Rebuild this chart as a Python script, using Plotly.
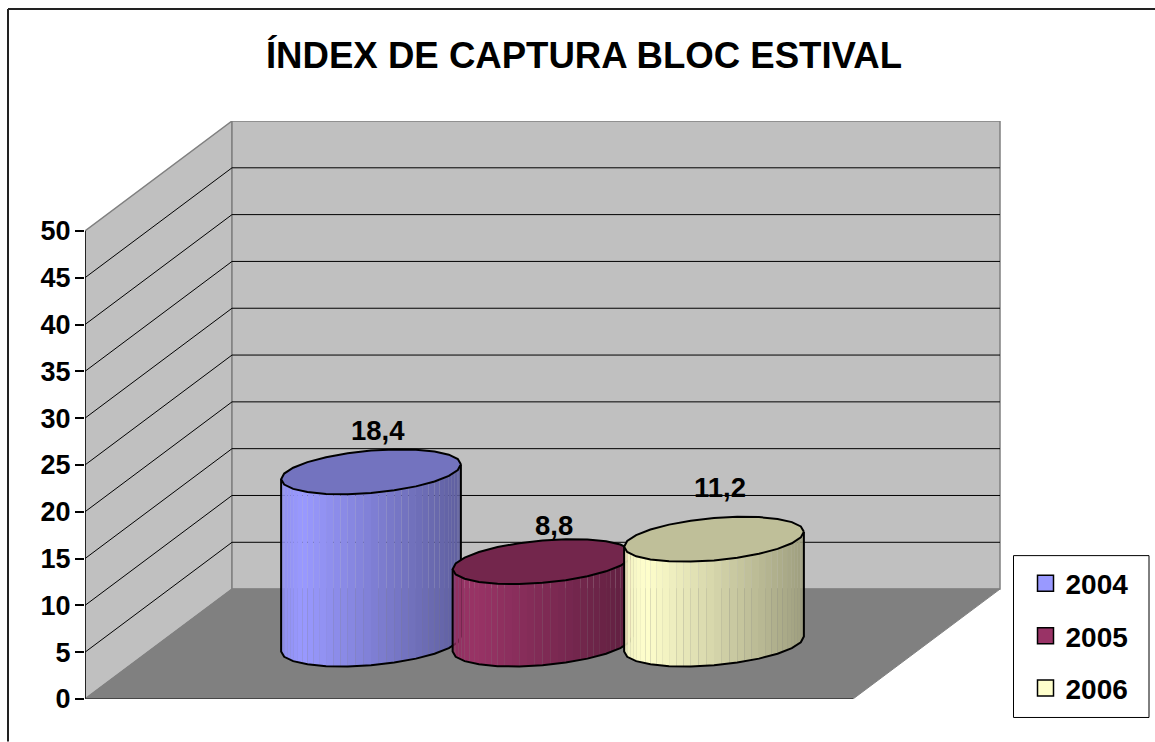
import numpy as np
import plotly.graph_objects as go

# ---- data ----
series_names = ["2004", "2005", "2006"]
series_values = [18.4, 8.8, 11.2]
y_ticks = [0, 5, 10, 15, 20, 25, 30, 35, 40, 45, 50]
title_text = "ÍNDEX DE CAPTURA BLOC ESTIVAL"

# ---- style ----
side_colors = [(153, 153, 255), (153, 51, 102), (255, 255, 204)]
FONT = "Liberation Sans, Arial, sans-serif"
W, H = 1155, 742
PL, PR, PT, PB = 85, 1001, 121, 699.5      # plot-area pixels
PX_PER_X = 768.0                           # pixels per x unit (front edge = 0..1)
PX_PER_Y = (699.5 - 231) / 50.0            # pixels per value unit
DEPTH_X = 147.0 / PX_PER_X                 # oblique depth vector in axis units
DEPTH_Y = 110.0 / PX_PER_Y
Y_TOP = (PB - PT) / PX_PER_Y
X_TOP = (PR - PL) / PX_PER_X
SPACING = 171.5 / PX_PER_X
RADIUS_X = 84.7 / PX_PER_X
RADIUS_D = 22.5 / 55.0 * 0.5               # radius as fraction of full depth
FACETS = 24
SUBSTRIPS = 3


def project(x, d, y):
    """x along the front edge, d depth 0..1, y value -> axis coordinates."""
    return x + DEPTH_X * d, y + DEPTH_Y * d


def rgb(c, f=1.0):
    return "rgb(%d,%d,%d)" % tuple(round(v * f) for v in c)


fig = go.Figure()


def poly(xs, ys, fill, line=None, width=0):
    fig.add_trace(go.Scatter(
        x=xs, y=ys, mode="lines", fill="toself", fillcolor=fill,
        line=dict(color=line or fill, width=width), hoverinfo="skip", showlegend=False))


# walls and floor
wx, wy = zip(*[project(0, 0, 0), project(0, 0, 50), project(0, 1, 50), project(0, 1, 0), project(0, 0, 0)])
poly(list(wx), list(wy), "#C0C0C0", "#808080", 1.5)
bx, by = zip(*[project(0, 1, 0), project(0, 1, 50), project(1, 1, 50), project(1, 1, 0), project(0, 1, 0)])
poly(list(bx), list(by), "#C0C0C0", "#808080", 1.5)
fx, fy = zip(*[project(0, 0, 0), project(1, 0, 0), project(1, 1, 0), project(0, 1, 0), project(0, 0, 0)])
poly(list(fx), list(fy), "#808080", "#808080", 1)

# gridlines
gx, gy = [], []
for t in y_ticks[1:-1]:
    pts = [project(0, 0, t), project(0, 1, t), project(1, 1, t)]
    gx += [p[0] for p in pts] + [None]
    gy += [p[1] for p in pts] + [None]
fig.add_trace(go.Scatter(x=gx, y=gy, mode="lines", line=dict(color="#000000", width=1),
                         hoverinfo="skip", showlegend=False))

# axis line and front edge
fig.add_trace(go.Scatter(x=[0, 0], y=[0, 50], mode="lines", line=dict(color="#000000", width=1.5),
                         hoverinfo="skip", showlegend=False))
fig.add_trace(go.Scatter(x=[0, 1], y=[0, 0], mode="lines", line=dict(color="#333333", width=1.5),
                         hoverinfo="skip", showlegend=False))

# cylinders
t_right = np.arctan2(DEPTH_X * RADIUS_D, RADIUS_X)
theta = t_right + np.arange(FACETS + 1) * 2 * np.pi / FACETS   # vertices incl. both x extremes
for i, (name, val, col) in enumerate(zip(series_names, series_values, side_colors)):
    cx = 0.5 + (i - 1) * SPACING
    ex = cx + RADIUS_X * np.cos(theta)
    ed = 0.5 + RADIUS_D * np.sin(theta)
    vx = ex + DEPTH_X * ed
    vy = DEPTH_Y * ed

    # visible side: left extreme to right extreme, through the front
    hx = vx[FACETS // 2:]
    hy = vy[FACETS // 2:]
    idx = np.arange(len(hx))
    fine = np.linspace(0, len(hx) - 1, (len(hx) - 1) * SUBSTRIPS + 1)
    sx = np.interp(fine, idx, hx)
    sy = np.interp(fine, idx, hy)
    span = sx[-1] - sx[0]
    for k in range(len(sx) - 1):
        u = ((sx[k] + sx[k + 1]) / 2 - sx[0]) / span
        shade = 0.94 + u / 0.12 * 0.06 if u < 0.12 else 1.0 - 0.38 * (u - 0.12) / 0.88
        poly([sx[k], sx[k + 1], sx[k + 1], sx[k], sx[k]],
             [sy[k], sy[k + 1], sy[k + 1] + val, sy[k] + val, sy[k]],
             rgb(col, shade))
    # silhouette
    ox = [hx[0]] + list(hx) + [hx[-1]]
    oy = [val + hy[0]] + list(hy) + [val + hy[-1]]
    fig.add_trace(go.Scatter(x=ox, y=oy, mode="lines", line=dict(color="#000000", width=2),
                             hoverinfo="skip", showlegend=False))
    # top face
    poly(list(vx), list(vy + val), rgb(col, 0.75), "#000000", 2)

# legend entries
for name, col in zip(series_names, side_colors):
    fig.add_trace(go.Scatter(
        x=[None], y=[None], mode="markers", name=name, legendgroup=name,
        marker=dict(symbol="square", size=16, color=rgb(col), line=dict(color="#000000", width=1.5))))

# value labels
label_shift = [(6.5, 41.5), (11.5, 36.5), (6, 52)]
for i, (val, (sx_, sy_)) in enumerate(zip(series_values, label_shift)):
    cx = 0.5 + (i - 1) * SPACING
    lx, ly = project(cx, 0.5, val)
    fig.add_annotation(x=lx, y=ly, xref="x", yref="y", text=f"{val:.1f}".replace(".", ","),
                       showarrow=False, xshift=sx_, yshift=sy_,
                       font=dict(family=FONT, size=27.5, color="#000000", weight="bold"))


def xp(px):
    return (px - PL) / (PR - PL)


def yp(py):
    return (PB - py) / (PB - PT)


fig.update_layout(
    width=W, height=H, autosize=False,
    margin=dict(l=PL, r=W - PR, t=PT, b=H - PB, pad=0),
    paper_bgcolor="#FFFFFF", plot_bgcolor="rgba(0,0,0,0)",
    font=dict(family=FONT, size=25, color="#000000"),
    title=dict(text=title_text, x=584 / W, xref="container", xanchor="center",
               y=1 - 55 / H, yref="container", yanchor="middle",
               font=dict(family=FONT, size=36.6, color="#000000", weight="bold")),
    xaxis=dict(visible=False, range=[0, X_TOP], fixedrange=True),
    yaxis=dict(range=[0, Y_TOP], tickmode="array", tickvals=y_ticks,
               ticktext=[str(t) for t in y_ticks], ticks="outside", ticklen=9,
               tickwidth=1.5, tickcolor="#000000", showgrid=False, zeroline=False, showline=False,
               ticklabelstandoff=-1,
               tickfont=dict(family=FONT, size=27, color="#000000", weight="bold"), fixedrange=True),
    legend=dict(x=xp(1025.5), y=yp(559), xanchor="left", yanchor="top",
                bgcolor="rgba(0,0,0,0)", borderwidth=0,
                tracegroupgap=13, itemsizing="trace",
                font=dict(family=FONT, size=28, color="#000000", weight="bold"),
                itemclick=False, itemdoubleclick=False),
    shapes=[
        dict(type="line", xref="paper", yref="paper", x0=xp(8), x1=xp(W), y0=yp(9), y1=yp(9),
             line=dict(color="#222222", width=2), layer="below"),
        dict(type="line", xref="paper", yref="paper", x0=xp(8), x1=xp(8), y0=yp(9), y1=yp(H),
             line=dict(color="#222222", width=2), layer="below"),
        dict(type="rect", xref="paper", yref="paper", x0=xp(1013.5), x1=xp(1149), y0=yp(556), y1=yp(718),
             line=dict(color="#000000", width=1), fillcolor="#FFFFFF", layer="below"),
    ],
)

fig.write_html("out.html", config=dict(displayModeBar=False),
               post_script="document.body.style.margin='0';document.body.style.overflow='hidden';")
